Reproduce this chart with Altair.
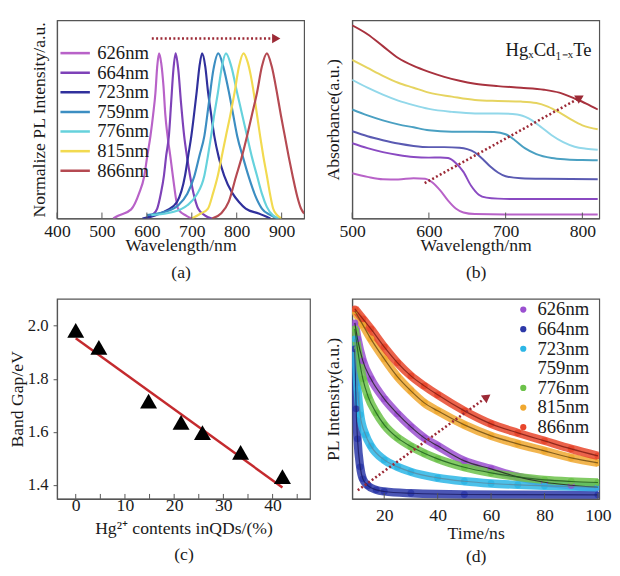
import altair as alt
import pandas as pd

FONT = "Liberation Serif"
FS = 18
GRAY = "#555555"
TXT = "#1a1a1a"

# ---------------- (a) normalized PL spectra ----------------
series = ["626nm", "664nm", "723nm", "759nm", "776nm", "815nm", "866nm"]
pl_colors = ["#b862c8", "#7e42b8", "#30309c", "#3c8ec2", "#66d2dc", "#f2da50", "#b54a52"]

pl_626_x = [525, 536, 565, 583, 594, 601, 608, 614, 619, 623, 627, 632, 637, 641, 646, 652, 658, 670, 688, 700]
pl_626_y = [0, 0.016, 0.055, 0.155, 0.254, 0.38, 0.5, 0.63, 0.76, 0.92, 1.0, 0.94, 0.8, 0.63, 0.5, 0.38, 0.254, 0.055, 0.016, 0]
pl_664_x = [600, 612, 623, 631, 638, 643, 649, 654, 659, 664, 670, 676, 683, 689, 696, 704, 714, 728, 745]
pl_664_y = [0, 0.02, 0.06, 0.15, 0.26, 0.38, 0.5, 0.7, 0.9, 1.0, 0.9, 0.7, 0.5, 0.38, 0.26, 0.15, 0.06, 0.02, 0]
pl_723_x = [590, 620, 645, 667, 685, 692, 699, 705, 711, 717, 723, 730, 736, 743, 750, 760, 772, 790, 805, 820, 849, 875]
pl_723_y = [0, 0.02, 0.05, 0.1, 0.26, 0.38, 0.5, 0.63, 0.77, 0.92, 1.0, 0.92, 0.77, 0.63, 0.5, 0.37, 0.26, 0.155, 0.1, 0.06, 0.03, 0]
pl_759_x = [600, 640, 670, 690, 705, 717, 728, 738, 748, 759, 770, 783, 792, 801, 814, 827, 841, 856, 875, 890]
pl_759_y = [0.02, 0.04, 0.08, 0.15, 0.25, 0.38, 0.5, 0.7, 0.9, 1.0, 0.92, 0.76, 0.63, 0.5, 0.37, 0.25, 0.14, 0.06, 0.02, 0]
pl_776_x = [610, 660, 690, 710, 728, 736, 743, 750, 758, 767, 776, 788, 801, 812, 823, 834, 845, 856, 867, 880, 895]
pl_776_y = [0.02, 0.04, 0.08, 0.14, 0.26, 0.38, 0.5, 0.63, 0.76, 0.92, 1.0, 0.92, 0.76, 0.63, 0.5, 0.37, 0.26, 0.15, 0.07, 0.02, 0]
pl_815_x = [700, 720, 736, 747, 758, 767, 776, 786, 795, 805, 815, 824, 831, 838, 845, 852, 859, 867, 874, 881, 890, 900]
pl_815_y = [0, 0.03, 0.06, 0.15, 0.26, 0.38, 0.5, 0.63, 0.76, 0.92, 1.0, 0.95, 0.87, 0.76, 0.63, 0.5, 0.38, 0.26, 0.15, 0.06, 0.02, 0]
pl_866_x = [745, 765, 782, 798, 811, 823, 834, 845, 856, 867, 878, 889, 898, 907, 916, 925, 935, 943, 950]
pl_866_y = [0, 0.03, 0.1, 0.25, 0.37, 0.5, 0.63, 0.76, 0.92, 1.0, 0.92, 0.77, 0.63, 0.5, 0.37, 0.25, 0.13, 0.06, 0.03]

pl_xs = [pl_626_x, pl_664_x, pl_723_x, pl_759_x, pl_776_x, pl_815_x, pl_866_x]
pl_ys = [pl_626_y, pl_664_y, pl_723_y, pl_759_y, pl_776_y, pl_815_y, pl_866_y]
a_ticks = [400, 500, 600, 700, 800, 900]
a_arrow_x, a_arrow_x2, a_arrow_y = 611, 888, 1.09

# ---------------- (b) absorbance ----------------
ab_626_x = [500, 520, 540, 560, 580, 595, 605, 615, 625, 635, 645, 660, 700, 820]
ab_626_y = [0.228, 0.21, 0.198, 0.197, 0.203, 0.2, 0.18, 0.14, 0.09, 0.05, 0.03, 0.022, 0.02, 0.02]
ab_664_x = [500, 520, 540, 560, 580, 600, 615, 625, 635, 645, 655, 665, 675, 690, 720, 820]
ab_664_y = [0.38, 0.355, 0.335, 0.32, 0.31, 0.307, 0.308, 0.305, 0.28, 0.235, 0.165, 0.12, 0.105, 0.1, 0.098, 0.098]
ab_723_x = [500, 520, 540, 560, 580, 600, 620, 640, 650, 660, 670, 680, 690, 700, 720, 750, 820]
ab_723_y = [0.44, 0.415, 0.395, 0.378, 0.366, 0.36, 0.36, 0.357, 0.35, 0.333, 0.3, 0.262, 0.232, 0.213, 0.203, 0.2, 0.198]
ab_759_x = [500, 520, 540, 560, 580, 600, 630, 660, 685, 700, 712, 725, 740, 760, 780, 800, 820]
ab_759_y = [0.55, 0.52, 0.495, 0.475, 0.46, 0.445, 0.438, 0.438, 0.436, 0.425, 0.395, 0.355, 0.325, 0.305, 0.298, 0.295, 0.294]
ab_776_x = [500, 520, 540, 560, 580, 600, 630, 660, 690, 715, 730, 745, 760, 775, 790, 805, 820]
ab_776_y = [0.7, 0.66, 0.625, 0.595, 0.572, 0.553, 0.538, 0.53, 0.53, 0.525, 0.505, 0.465, 0.42, 0.385, 0.362, 0.352, 0.347]
ab_815_x = [500, 520, 540, 560, 580, 600, 630, 660, 690, 720, 740, 755, 770, 785, 800, 820]
ab_815_y = [0.8, 0.76, 0.72, 0.685, 0.66, 0.635, 0.615, 0.598, 0.593, 0.59, 0.583, 0.565, 0.535, 0.5, 0.47, 0.45]
ab_866_x = [500, 520, 540, 560, 580, 600, 620, 640, 660, 690, 720, 750, 770, 790, 805, 820]
ab_866_y = [0.975, 0.93, 0.87, 0.81, 0.77, 0.74, 0.715, 0.695, 0.68, 0.668, 0.66, 0.65, 0.635, 0.605, 0.58, 0.55]
ab_colors = ["#b862c8", "#8a4ac2", "#5a5ab2", "#4aa0c2", "#92d8ea", "#e6d460", "#a8323e"]
ab_xs = [ab_626_x, ab_664_x, ab_723_x, ab_759_x, ab_776_x, ab_815_x, ab_866_x]
ab_ys = [ab_626_y, ab_664_y, ab_723_y, ab_759_y, ab_776_y, ab_815_y, ab_866_y]
b_ticks = [500, 600, 700, 800]
b_arrow = [594.5, 0.178, 797, 0.61]

# ---------------- (c) band gap ----------------
hg_content = [0, 4.7, 14.8, 21.4, 25.75, 33.5, 42]
band_gap = [1.982, 1.918, 1.716, 1.636, 1.597, 1.523, 1.432]
fit_x = [0, 42]
fit_y = [1.953, 1.391]
c_xticks = [0, 5, 10, 15, 20, 25, 30, 35, 40, 45]

# ---------------- (d) PL decay ----------------
d_series = ["626nm", "664nm", "723nm", "759nm", "776nm", "815nm", "866nm"]
d_colors = ["#9b50d0", "#2c38a8", "#2cb6e6", "#ffffff", "#6cc24a", "#f0a830", "#e8462c"]
d_fit_colors = ["#222222", "#1a1a60", "#5a8aa0", "#ffffff", "#1d5a1d", "#6a4a10", "#7a1a10"]
dc_626_t = [9, 10, 12, 15, 20, 25, 30, 35, 40, 50, 60, 70, 80, 90, 100]
dc_626_y = [0.88, 0.8, 0.69, 0.6, 0.5, 0.425, 0.36, 0.305, 0.265, 0.19, 0.15, 0.11, 0.083, 0.068, 0.058]
dc_664_t = [9, 9.5, 10, 11, 12, 14, 17, 20, 30, 50, 100]
dc_664_y = [0.75, 0.45, 0.3, 0.16, 0.1, 0.065, 0.045, 0.037, 0.028, 0.022, 0.02]
dc_723_t = [9, 10, 11, 13, 15, 20, 25, 30, 40, 50, 60, 70, 80, 100]
dc_723_y = [0.8, 0.55, 0.42, 0.32, 0.265, 0.195, 0.16, 0.135, 0.105, 0.088, 0.077, 0.07, 0.065, 0.058]
dc_776_t = [9, 10, 12, 14, 17, 20, 25, 30, 35, 40, 50, 60, 70, 80, 90, 100]
dc_776_y = [0.85, 0.75, 0.6, 0.51, 0.43, 0.37, 0.305, 0.262, 0.228, 0.2, 0.158, 0.13, 0.11, 0.095, 0.087, 0.082]
dc_815_t = [9, 12, 15, 20, 25, 30, 35, 40, 50, 60, 70, 80, 90, 100]
dc_815_y = [0.94, 0.87, 0.8, 0.7, 0.61, 0.54, 0.48, 0.44, 0.37, 0.315, 0.275, 0.24, 0.205, 0.18]
dc_866_t = [9, 12, 15, 20, 25, 30, 35, 40, 50, 60, 70, 80, 90, 100]
dc_866_y = [0.95, 0.9, 0.85, 0.76, 0.68, 0.615, 0.565, 0.52, 0.44, 0.375, 0.33, 0.29, 0.25, 0.215]
d_curves = [("626nm", dc_626_t, dc_626_y), ("664nm", dc_664_t, dc_664_y), ("723nm", dc_723_t, dc_723_y),
            ("776nm", dc_776_t, dc_776_y), ("815nm", dc_815_t, dc_815_y), ("866nm", dc_866_t, dc_866_y)]
d_ticks = [20, 40, 60, 80, 100]
d_arrow = [10.1, 0.043, 58.5, 0.51]

ARROW = "#9c2a36"


def long_df(names, xs, ys, xn, yn):
    rows = []
    for n, xx, yy in zip(names, xs, ys):
        for i, (a, b) in enumerate(zip(xx, yy)):
            rows.append({"series": n, xn: a, yn: b, "i": i})
    return pd.DataFrame(rows)


def inward_ticks(values, field, h, length=6):
    return alt.Chart(pd.DataFrame({field: values})).mark_rule(color=GRAY, strokeWidth=1).encode(
        x=f"{field}:Q", y=alt.value(h), y2=alt.value(h - length))


def arrow_layers(x1, y1, x2, y2, xf, yf, angle):
    df = pd.DataFrame({xf: [x1], yf: [y1], "xe": [x2], "ye": [y2]})
    base = alt.Chart(df)
    line = base.mark_rule(color=ARROW, strokeWidth=2.6, strokeDash=[2, 2.4]).encode(
        x=f"{xf}:Q", y=f"{yf}:Q", x2="xe", y2="ye")
    head = base.mark_point(shape="triangle-right", filled=True, size=95, color=ARROW, opacity=1,
                           angle=angle).encode(x="xe:Q", y="ye:Q")
    return line, head


W, H1, H2 = 252, 202, 204
WC = 258

# ---------- panel (a) ----------
a_df = long_df(series, pl_xs, pl_ys, "wl", "inten")
xa = alt.X("wl:Q", scale=alt.Scale(domain=[400, 950], nice=False, zero=False),
           axis=alt.Axis(values=a_ticks, ticks=False, labelPadding=4, labelFlush=False, labelOverlap=False,
                         title=["Wavelength/nm", "(a)"], titleLineHeight=27, titlePadding=-3))
ya = alt.Y("inten:Q", scale=alt.Scale(domain=[0, 1.2], nice=False),
           axis=alt.Axis(labels=False, ticks=False, title="Normalize PL Intensity/a.u.", titlePadding=9))
a_lines = alt.Chart(a_df).mark_line(strokeWidth=2.2, interpolate="monotone", clip=True).encode(
    x=xa, y=ya, order="i:Q",
    color=alt.Color("series:N", scale=alt.Scale(domain=series, range=pl_colors),
                    legend=alt.Legend(orient="none", legendX=2, legendY=24, title=None, symbolType="stroke",
                                      symbolSize=900, symbolStrokeWidth=2.6, labelFontSize=FS + 1,
                                      clipHeight=18.8, rowPadding=0, labelOffset=6, labelFont=FONT,
                                      labelColor=TXT)))
a_l, a_h = arrow_layers(a_arrow_x, a_arrow_y, a_arrow_x2, a_arrow_y, "wl", "inten", 0)
panel_a = alt.layer(a_lines, a_l, a_h, inward_ticks(a_ticks, "wl", H1)).properties(width=W, height=H1)

# ---------- panel (b) ----------
b_df = long_df(series, ab_xs, ab_ys, "wl", "ab")
xb = alt.X("wl:Q", scale=alt.Scale(domain=[500, 822], nice=False, zero=False),
           axis=alt.Axis(values=b_ticks, ticks=False, labelPadding=4, labelFlush=False, labelOverlap=False,
                         title=["Wavelength/nm", "(b)"], titleLineHeight=27, titlePadding=-3))
yb = alt.Y("ab:Q", scale=alt.Scale(domain=[0, 1], nice=False),
           axis=alt.Axis(labels=False, ticks=False, title="Absorbance(a.u.)", titlePadding=10))
b_lines = alt.Chart(b_df).mark_line(strokeWidth=2, interpolate="monotone", clip=True).encode(
    x=xb, y=yb, order="i:Q",
    color=alt.Color("series:N", scale=alt.Scale(domain=series, range=ab_colors), legend=None))
b_l, b_h = arrow_layers(b_arrow[0], b_arrow[1], b_arrow[2], b_arrow[3], "wl", "ab", 331)
b_text = alt.Chart(pd.DataFrame({"wl": [812], "ab": [0.85], "t": ["HgₓCd₁₋ₓTe"]})).mark_text(
    align="right", baseline="middle", font=FONT, fontSize=FS + 1, color=TXT).encode(x="wl:Q", y="ab:Q", text="t:N")
panel_b = alt.layer(b_lines, b_l, b_h, b_text, inward_ticks(b_ticks, "wl", H1)).properties(width=W, height=H1)

# ---------- panel (c) ----------
c_df = pd.DataFrame({"hg": hg_content, "eg": band_gap})
fit_df = pd.DataFrame({"hg": fit_x, "eg": fit_y})
xc = alt.X("hg:Q", scale=alt.Scale(domain=[-3.8, 47.6], nice=False, zero=False),
           axis=alt.Axis(values=c_xticks, ticks=False, labelPadding=-2, labelOverlap=False, labelFlush=False,
                         labelBound=False, labelSeparation=0,
                         title=["Hg²⁺ contents inQDs/(%)", "(c)"], titleLineHeight=27, titlePadding=5))
yc = alt.Y("eg:Q", scale=alt.Scale(domain=[1.348, 2.101], nice=False, zero=False),
           axis=alt.Axis(values=[1.4, 1.6, 1.8, 2.0], format=".1f", tickSize=4, labelPadding=5,
                         labelFontSize=17, title="Band Gap/eV", titlePadding=1))
c_fit = alt.Chart(fit_df).mark_line(color="#c42a2e", strokeWidth=2.5).encode(x=xc, y=yc)
c_pts = alt.Chart(c_df).mark_point(shape="triangle-up", filled=True, color="black", opacity=1, size=300).encode(
    x="hg:Q", y="eg:Q")
panel_c = alt.layer(c_fit, c_pts, inward_ticks(c_xticks, "hg", H2, 5)).properties(width=WC, height=H2)

# ---------- panel (d) ----------
d_df = long_df([c[0] for c in d_curves], [c[1] for c in d_curves], [c[2] for c in d_curves], "t", "pl")
xd = alt.X("t:Q", scale=alt.Scale(domain=[8, 100.5], nice=False, zero=False),
           axis=alt.Axis(values=d_ticks, ticks=False, labelPadding=8, labelFlush=False, labelOverlap=False,
                         title=["Time/ns", "(d)"], titleLineHeight=24, titlePadding=0))
yd = alt.Y("pl:Q", scale=alt.Scale(domain=[0, 1], nice=False),
           axis=alt.Axis(labels=False, ticks=False, title="PL Intensity(a.u.)", titlePadding=10))
d_band = alt.Chart(d_df).mark_line(strokeWidth=8.5, opacity=0.85, interpolate="monotone", clip=True).encode(
    x=xd, y=yd, order="i:Q",
    stroke=alt.Stroke("series:N", scale=alt.Scale(domain=d_series, range=d_colors), legend=None))
d_fit = alt.Chart(d_df).mark_line(strokeWidth=1.2, opacity=0.8, interpolate="monotone", clip=True).encode(
    x="t:Q", y="pl:Q", order="i:Q",
    color=alt.Color("series:N", scale=alt.Scale(domain=d_series, range=d_fit_colors), legend=None))
d_dots = alt.Chart(d_df).mark_circle(size=50, opacity=0.9, clip=True).encode(
    x="t:Q", y="pl:Q",
    fill=alt.Fill("series:N", scale=alt.Scale(domain=d_series, range=d_colors),
                  legend=alt.Legend(orient="none", legendX=165, legendY=2, title=None, symbolType="circle",
                                    symbolSize=40, symbolOpacity=1, labelFontSize=FS + 1, clipHeight=17.8,
                                    rowPadding=0, labelOffset=5, labelFont=FONT, labelColor=TXT)))
d_l, d_h = arrow_layers(d_arrow[0], d_arrow[1], d_arrow[2], d_arrow[3], "t", "pl", 324)
panel_d = alt.layer(d_band, d_dots, d_fit, d_l, d_h, inward_ticks(d_ticks, "t", H2)).resolve_scale(
    stroke="independent", fill="independent", color="independent").properties(width=W, height=H2)

chart = alt.concat(panel_a, panel_b, panel_c, panel_d, columns=2,
                   spacing={"row": 16, "column": 13}).resolve_scale(
    color="independent", fill="independent", stroke="independent"
).resolve_legend(color="independent", fill="independent", stroke="independent").properties(
    padding={"left": 0, "top": 6, "right": 0, "bottom": 2}
).configure_view(stroke=GRAY, strokeWidth=1.2).configure_axis(
    labelFont=FONT, titleFont=FONT, labelFontSize=FS, titleFontSize=FS, labelColor=TXT, titleColor=TXT,
    titleFontWeight="normal", domainColor=GRAY, tickColor=GRAY, grid=False, domainWidth=1.2
).configure_legend(labelFont=FONT)

chart.save("out.html", embed_options={"renderer": "svg", "actions": False})
